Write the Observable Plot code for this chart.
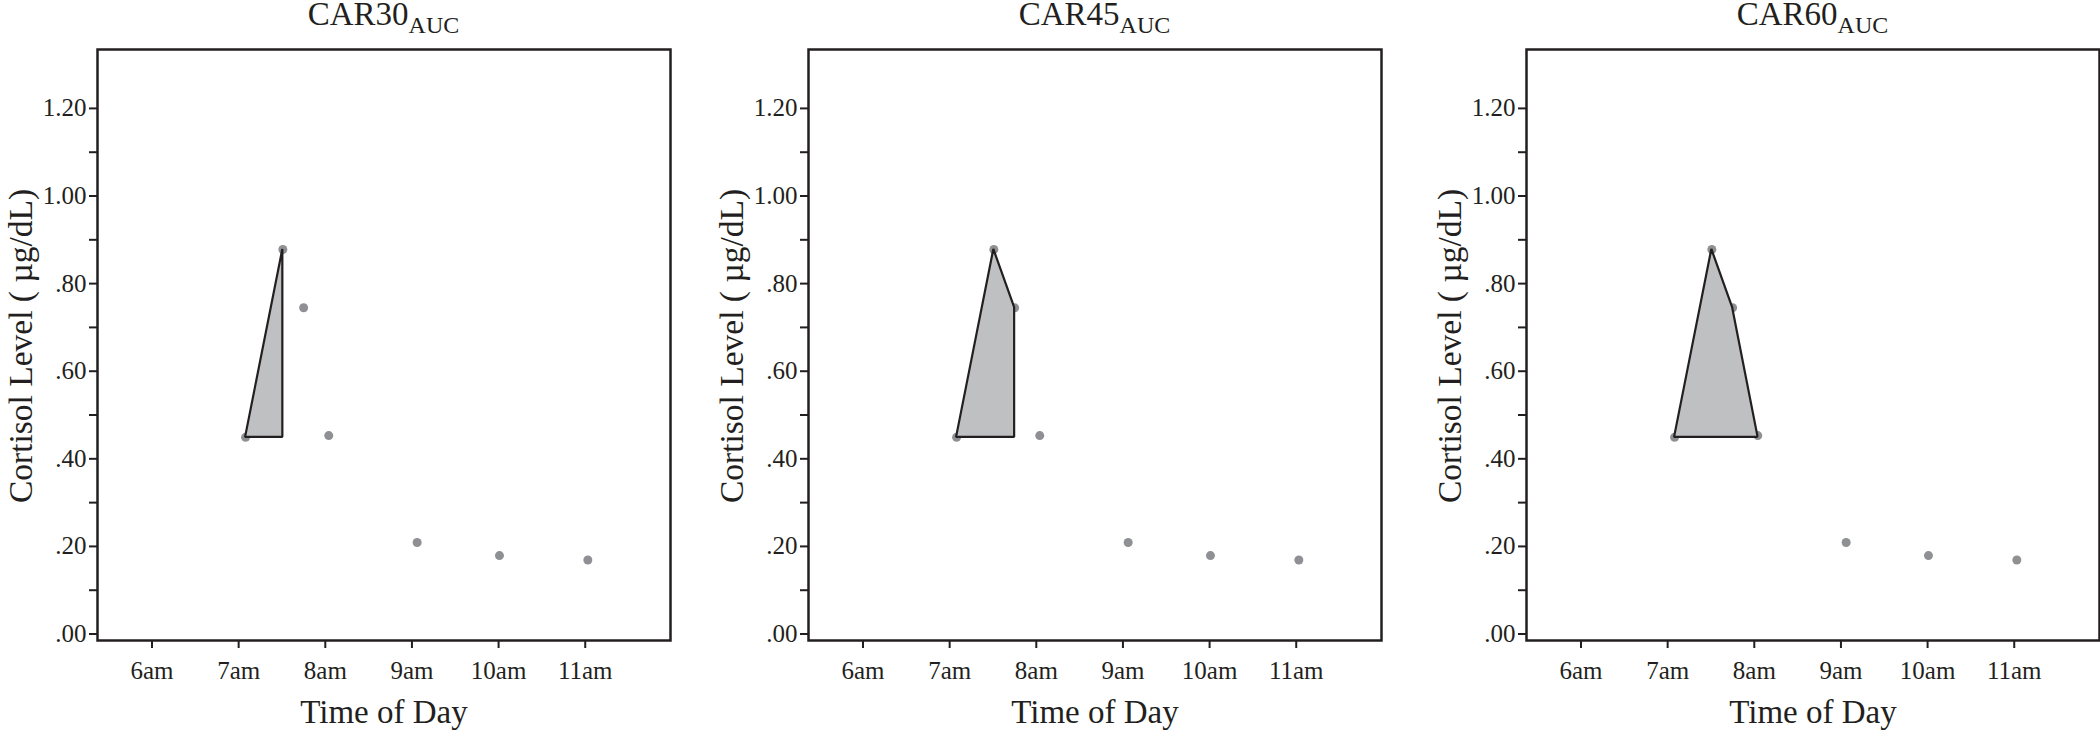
<!DOCTYPE html>
<html>
<head>
<meta charset="utf-8">
<script src="https://cdn.jsdelivr.net/npm/d3@7"></script>
<script src="https://cdn.jsdelivr.net/npm/@observablehq/plot@0.6"></script>
<style>
  html, body { margin: 0; padding: 0; background: #fff; overflow: hidden; }
  #chart { position: relative; width: 2100px; height: 731px; font-family: "Liberation Serif", serif; color: #231f20; }
  .title { position: absolute; text-align: center; font-size: 33px; line-height: 24px; white-space: nowrap; }
  .title span { font-size: 24px; position: relative; top: 8px; }
  .panel { position: absolute; top: 0; }
</style>
</head>
<body>
<div id="chart"></div>
<script>
// ---- data ----
const panelNames = ["CAR30", "CAR45", "CAR60"];
const panelSub = "AUC";
const panelSampleCount = [2, 3, 4];          // samples included in each AUC polygon
const sampleTimes = [7.08, 7.51, 7.75, 8.04, 9.06, 10.01, 11.03];  // hours of day
const cortisol = [0.449, 0.878, 0.745, 0.453, 0.209, 0.179, 0.169]; // µg/dL
const hourTicks = [6, 7, 8, 9, 10, 11];
const hourLabels = ["6am", "7am", "8am", "9am", "10am", "11am"];
const yMajorTicks = [0, 0.2, 0.4, 0.6, 0.8, 1.0, 1.2];
const yMinorTicks = [0.1, 0.3, 0.5, 0.7, 0.9, 1.1];
const xLabel = "Time of Day";
const yLabel = "Cortisol Level ( µg/dL)";

// ---- layout ----
const frameLefts = [97, 808, 1526];
const frameWidth = 573;
const ML = 97, MR = 1, MT = 49, MB = 91, H = 731;
const ink = "#231f20";

const chart = document.getElementById("chart");
const samples = sampleTimes.map((t, j) => ({t, v: cortisol[j]}));

panelNames.forEach((name, i) => {
  const n = panelSampleCount[i];
  const auc = samples.slice(0, n).map(d => ({t: d.t, v: d.v, base: cortisol[0]}));
  const svg = Plot.plot({
    width: ML + frameWidth + MR,
    height: H,
    marginLeft: ML, marginRight: MR, marginTop: MT, marginBottom: MB,
    style: {fontFamily: "'Liberation Serif', serif", fontSize: "25px", color: ink, background: "transparent", overflow: "visible"},
    x: {domain: [5.371, 11.984]},
    y: {domain: [-0.0148, 1.3345]},
    marks: [
      Plot.dot(samples, {x: "t", y: "v", r: 4.5, fill: "#8f9093", stroke: "none"}),
      Plot.areaY(auc, {x: "t", y1: "base", y2: "v", fill: "#bfc0c2", fillOpacity: 1, stroke: ink, strokeWidth: 2.2, strokeLinejoin: "miter", curve: "linear"}),
      Plot.axisY(yMajorTicks, {tickSize: 8, tickPadding: 3, strokeWidth: 2, fontSize: 25, label: null,
        tickFormat: d => d.toFixed(2).replace(/^0/, "")}),
      Plot.axisY(yMinorTicks, {tickSize: 8, strokeWidth: 2, label: null, tickFormat: () => ""}),
      Plot.axisX(hourTicks, {tickSize: 8, tickPadding: 13, strokeWidth: 2, fontSize: 25, label: null,
        tickFormat: d => hourLabels[hourTicks.indexOf(d)]}),
      Plot.frame({stroke: ink, strokeWidth: 2.5}),
      Plot.text([xLabel], {frameAnchor: "bottom", dy: 82, lineAnchor: "bottom", textAnchor: "middle", fontSize: 33, fill: ink}),
      Plot.text([yLabel], {frameAnchor: "left", rotate: -90, dx: -66, dy: 1, lineAnchor: "bottom", textAnchor: "middle", fontSize: 33.5, fill: ink})
    ]
  });
  const wrap = document.createElement("div");
  wrap.className = "panel";
  wrap.style.left = (frameLefts[i] - ML) + "px";
  wrap.appendChild(svg);
  chart.appendChild(wrap);

  const title = document.createElement("div");
  title.className = "title";
  title.style.left = frameLefts[i] + "px";
  title.style.width = frameWidth + "px";
  title.style.top = "2px";
  title.innerHTML = name + "<span>" + panelSub + "</span>";
  chart.appendChild(title);
});
</script>
</body>
</html>
